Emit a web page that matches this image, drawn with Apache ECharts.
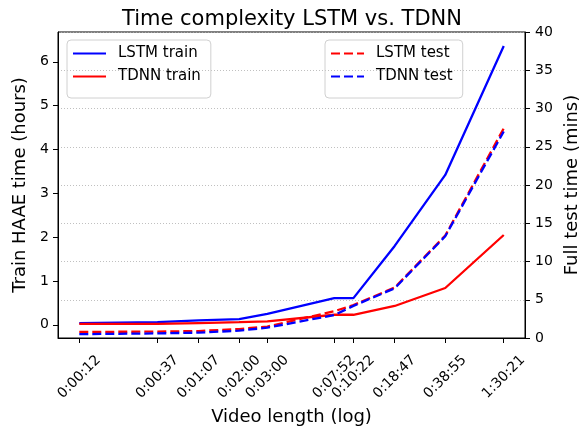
<!DOCTYPE html>
<html>
<head>
<meta charset="UTF-8">
<title>Time complexity LSTM vs. TDNN</title>
<script src="https://cdn.jsdelivr.net/npm/echarts@6/dist/echarts.min.js"></script>
<style>
  html, body { margin: 0; padding: 0; background: #fff; }
  #main { width: 584px; height: 426px; }
</style>
</head>
<body>
<div id="main"></div>
<script>
// video length in seconds (x axis is log)
var videoSecs = [12, 37, 67, 120, 180, 472, 622, 1127, 2335, 5421];
var videoLabels = ['0:00:12', '0:00:37', '0:01:07', '0:02:00', '0:03:00',
                   '0:07:52', '0:10:22', '0:18:47', '0:38:55', '1:30:21'];
// train time (hours), left axis
var lstmTrain = [0.04, 0.06, 0.10, 0.13, 0.25, 0.61, 0.61, 1.80, 3.42, 6.36];
var tdnnTrain = [0.02, 0.02, 0.04, 0.06, 0.08, 0.23, 0.23, 0.43, 0.84, 2.05];
// full test time (mins), right axis
var lstmTest = [0.8, 0.83, 0.91, 1.17, 1.5, 3.5, 4.3, 6.6, 13.4, 27.4];
var tdnnTest = [0.5, 0.6, 0.7, 0.96, 1.35, 3.0, 4.2, 6.5, 13.3, 27.0];
var leftTicks = [0, 1, 2, 3, 4, 5, 6];

var FONT = 'DejaVu Sans';
var logX = videoSecs.map(function (s) { return Math.log10(s); });

function pairs(vals) {
  return vals.map(function (v, i) { return [logX[i], v]; });
}
function xLabel(v) {
  for (var i = 0; i < logX.length; i++) {
    if (Math.abs(logX[i] - v) < 1e-6) return videoLabels[i];
  }
  return '';
}

// legend box shared style
function legendBox(names, left) {
  return {
    data: names,
    orient: 'vertical',
    left: left, top: 40,
    itemWidth: 33, itemHeight: 14, itemGap: 8,
    padding: [6, 10, 14, 5],
    borderColor: '#d0d0d0', borderWidth: 1, borderRadius: 4,
    itemStyle: { opacity: 0 },
    textStyle: { fontFamily: FONT, fontSize: 15, color: '#000', padding: [0, 0, 0, 7] }
  };
}

var chart = echarts.init(document.getElementById('main'));

var option = {
  animation: false,
  backgroundColor: '#fff',
  title: {
    text: 'Time complexity LSTM vs. TDNN',
    left: 'center',
    top: 4,
    textStyle: { fontFamily: FONT, fontSize: 21, fontWeight: 'normal', color: '#000' }
  },
  grid: {
    left: 58, right: 59, top: 32, bottom: 88,
    outerBoundsMode: 'none',
    containLabel: false,
    show: true, borderColor: '#000', borderWidth: 1, backgroundColor: 'transparent'
  },
  legend: [
    legendBox(['LSTM train', 'TDNN train'], 67),
    legendBox(['LSTM test', 'TDNN test'], 325)
  ],
  xAxis: {
    type: 'value',
    min: 0.946, max: 3.867,
    name: 'Video length (log)',
    nameLocation: 'middle',
    nameGap: 65,
    nameTextStyle: { fontFamily: FONT, fontSize: 18, color: '#000' },
    axisLine: { onZero: false, lineStyle: { color: '#000' } },
    axisTick: { customValues: logX, length: 5, lineStyle: { color: '#000' } },
    axisLabel: {
      customValues: logX, rotate: 45, margin: 39,
      align: 'center', verticalAlign: 'middle',
      fontFamily: FONT, fontSize: 14, color: '#000',
      formatter: xLabel
    },
    splitLine: { show: false }
  },
  yAxis: [
    {
      type: 'value',
      min: -0.3, max: 6.68,
      name: 'Train HAAE time (hours)',
      nameLocation: 'middle',
      nameGap: 21,
      nameTextStyle: { fontFamily: FONT, fontSize: 18, color: '#000' },
      axisLine: { show: true, onZero: false, lineStyle: { color: '#000' } },
      axisTick: { show: true, customValues: leftTicks, length: 5, lineStyle: { color: '#000' } },
      axisLabel: { customValues: leftTicks, margin: 9, fontFamily: FONT, fontSize: 14, color: '#000' },
      splitLine: { show: false }
    },
    {
      type: 'value',
      min: 0, max: 40, interval: 5,
      position: 'right',
      name: 'Full test time (mins)',
      nameLocation: 'middle',
      nameGap: 34,
      nameTextStyle: { fontFamily: FONT, fontSize: 18, color: '#000' },
      axisLine: { show: true, onZero: false, lineStyle: { color: '#000' } },
      axisTick: { show: true, length: 5, lineStyle: { color: '#000' } },
      axisLabel: { margin: 10, fontFamily: FONT, fontSize: 14, color: '#000' },
      splitLine: { show: true, lineStyle: { color: '#b0b0b0', type: [1, 2], width: 0.8 } }
    }
  ],
  series: [
    {
      name: 'LSTM train', type: 'line', yAxisIndex: 0, symbol: 'none',
      color: '#0000ff', lineStyle: { width: 2.3, color: '#0000ff' },
      data: pairs(lstmTrain)
    },
    {
      name: 'TDNN train', type: 'line', yAxisIndex: 0, symbol: 'none',
      color: '#ff0000', lineStyle: { width: 2.3, color: '#ff0000' },
      data: pairs(tdnnTrain)
    },
    {
      name: 'LSTM test', type: 'line', yAxisIndex: 1, symbol: 'none',
      color: '#ff0000', lineStyle: { width: 2.3, color: '#ff0000', type: [9, 4] },
      data: pairs(lstmTest)
    },
    {
      name: 'TDNN test', type: 'line', yAxisIndex: 1, symbol: 'none',
      color: '#0000ff', lineStyle: { width: 2.3, color: '#0000ff', type: [9, 4] },
      data: pairs(tdnnTest)
    }
  ]
};

chart.setOption(option);
</script>
</body>
</html>
